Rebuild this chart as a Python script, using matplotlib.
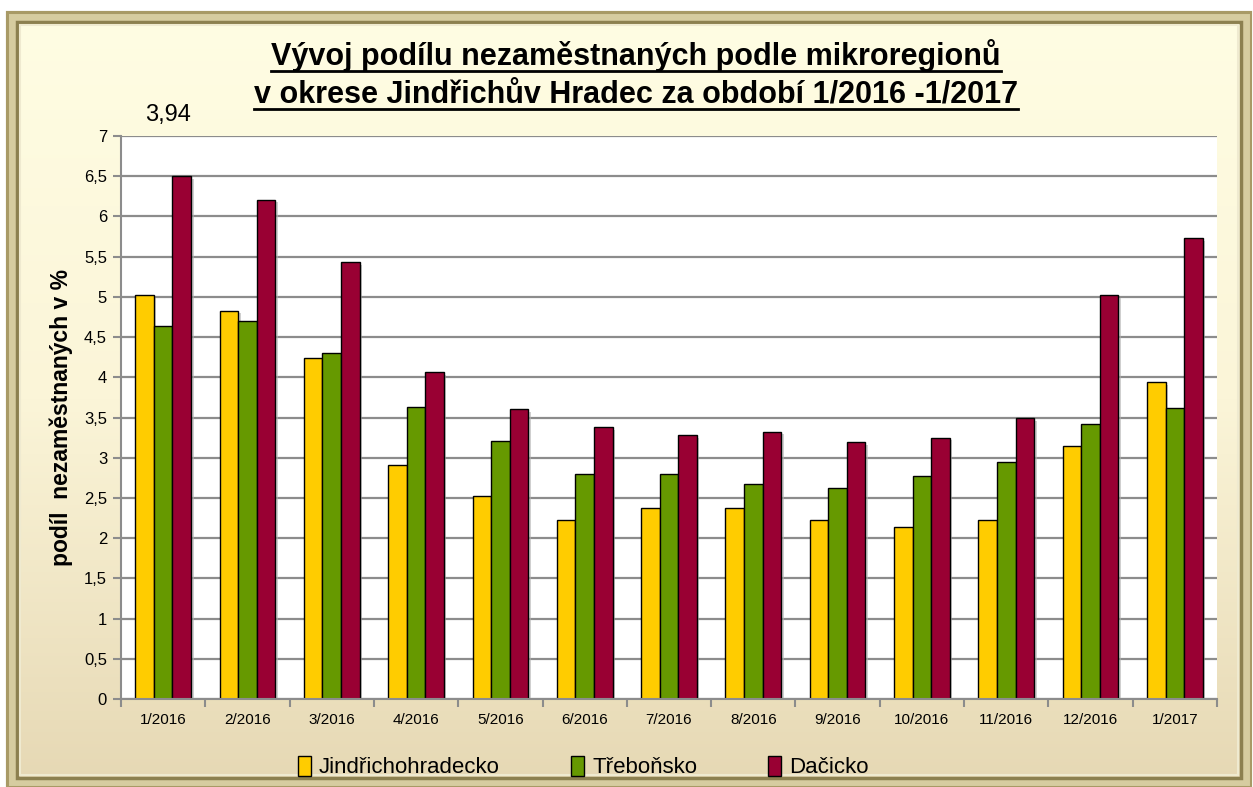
import numpy as np
import matplotlib
matplotlib.use("Agg")
import matplotlib.pyplot as plt
from matplotlib.patches import Rectangle
from matplotlib.lines import Line2D

plt.rcParams['font.family'] = ['Liberation Sans Narrow', 'Liberation Sans', 'DejaVu Sans']

# data
months = ['1/2016', '2/2016', '3/2016', '4/2016', '5/2016', '6/2016', '7/2016',
          '8/2016', '9/2016', '10/2016', '11/2016', '12/2016', '1/2017']
jindrichohradecko = [5.02, 4.83, 4.24, 2.91, 2.53, 2.23, 2.37, 2.38, 2.23, 2.14, 2.23, 3.15, 3.94]
trebonsko = [4.64, 4.70, 4.30, 3.63, 3.21, 2.80, 2.80, 2.67, 2.62, 2.77, 2.95, 3.42, 3.62]
dacicko = [6.50, 6.21, 5.43, 4.06, 3.60, 3.38, 3.28, 3.32, 3.19, 3.25, 3.49, 5.02, 5.73]
series_names = ['Jindřichohradecko', 'Třeboňsko', 'Dačicko']
colors = ['#FFCC00', '#669900', '#990033']

W, H = 1253, 787
fig = plt.figure(figsize=(W / 100, H / 100), dpi=100)
fig.patch.set_facecolor('white')

# background frame with gradient
bg = fig.add_axes([0, 0, 1, 1], zorder=-10)
bg.set_xlim(0, W)
bg.set_ylim(H, 0)
bg.axis('off')
grad = np.linspace(0, 1, 256).reshape(-1, 1)
cmap = matplotlib.colors.LinearSegmentedColormap.from_list('bg', ['#FFFDE3', '#FBF5D8', '#E6D8B4'])
bg.imshow(grad, cmap=cmap, extent=[8, 1250, 786, 13], aspect='auto')
# bevelled border
bg.add_patch(Rectangle((8, 13), 1242, 773, fill=False, edgecolor='#A89A66', lw=3))
bg.add_patch(Rectangle((12, 17), 1234, 765, fill=False, edgecolor='#D6CCA0', lw=5))
bg.add_patch(Rectangle((17, 22), 1224, 756, fill=False, edgecolor='#8C8050', lw=2.5))
bg.add_patch(Rectangle((20, 25), 1218, 750, fill=False, edgecolor='#EFEAD0', lw=1.5))

ax = fig.add_axes([121 / W, 1 - 699 / H, (1217 - 121) / W, (699 - 136) / H])
ax.set_facecolor('white')

x = np.arange(len(months))
bw = 0.22
for i, (vals, name, c) in enumerate(zip([jindrichohradecko, trebonsko, dacicko], series_names, colors)):
    # soft shadow then the bar
    ax.bar(x + (i - 1) * bw + 0.03, np.array(vals) - 0.03, bw, bottom=0, color='#B0B0B0',
           linewidth=0, zorder=2, alpha=0.6)
    ax.bar(x + (i - 1) * bw, vals, bw, color=c, edgecolor='black', linewidth=1, label=name, zorder=3)

ax.set_xlim(-0.5, len(months) - 0.5)
ax.set_ylim(0, 7)
ax.set_yticks(np.arange(0, 7.01, 0.5))
ax.set_yticklabels([('%g' % v).replace('.', ',') for v in np.arange(0, 7.01, 0.5)], fontsize=12)
ax.yaxis.grid(True, color='#8C8C8C', linewidth=1.6, zorder=0)
ax.set_axisbelow(True)

ax.set_xticks(x)
ax.set_xticklabels(months, fontsize=11)
ax.set_xticks(np.arange(-0.5, len(months)), minor=True)
ax.tick_params(axis='x', which='major', length=0, pad=10)
ax.tick_params(axis='x', which='minor', length=6, color='#8C8C8C', width=1.5)
ax.tick_params(axis='y', length=6, color='#8C8C8C', width=1.5, pad=4)

for s in ['top', 'right']:
    ax.spines[s].set_visible(False)
for s in ['left', 'bottom']:
    ax.spines[s].set_color('#8C8C8C')
    ax.spines[s].set_linewidth(1.5)
    ax.spines[s].set_zorder(4)

ax.set_ylabel('podíl  nezaměstnaných v %', fontsize=16.5, fontweight='bold', labelpad=8)

leg = fig.legend(loc='center', bbox_to_anchor=(0.4655, 1 - 767 / H), ncol=3, frameon=False,
                 fontsize=16, handlelength=0.6, handleheight=1.0, columnspacing=3.2,
                 handletextpad=0.35)

fig.text(145 / W, 1 - 115 / H, '3,94', fontsize=17, va='center', ha='left')

t1 = fig.text(636 / W, 1 - 56 / H, 'Vývoj podílu nezaměstnaných podle mikroregionů',
              fontsize=22, fontweight='bold', ha='center', va='center')
t2 = fig.text(636 / W, 1 - 95 / H, 'v okrese Jindřichův Hradec za období 1/2016 -1/2017',
              fontsize=22, fontweight='bold', ha='center', va='center')

# underline titles
fig.canvas.draw()
r = fig.canvas.get_renderer()
for t in (t1, t2):
    bb = t.get_window_extent(renderer=r)
    yl = bb.y0 + 1
    fig.add_artist(Line2D([bb.x0 / W, bb.x1 / W], [yl / H, yl / H], color='black', lw=2,
                          transform=fig.transFigure))

fig.savefig('out.png', dpi=100)
